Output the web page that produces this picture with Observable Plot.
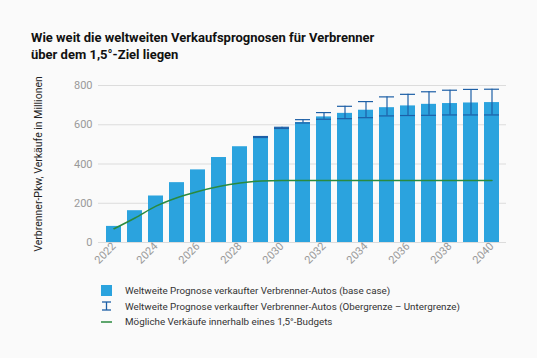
<!DOCTYPE html>
<html><head><meta charset="utf-8">
<script src="https://cdn.jsdelivr.net/npm/d3@7"></script>
<script src="https://cdn.jsdelivr.net/npm/@observablehq/plot@0.6"></script>
<style>
body{margin:0;background:#fafafa;font-family:Roboto, "Liberation Sans", sans-serif;}
#wrap{position:relative;width:537px;height:358px;overflow:hidden;background:#fafafa;}
#title{position:absolute;left:31px;top:29px;font-weight:bold;font-size:13px;line-height:17px;color:#111;}
#chart{position:absolute;left:0;top:70px;}
#legend{position:absolute;left:100px;top:283px;font-size:9.8px;color:#333;}
.row{display:flex;align-items:center;height:15.5px;}
.row svg{width:14px;height:14px;margin-right:11px;flex:none;}
</style></head>
<body>
<div id="wrap">
  <div id="title">Wie weit die weltweiten Verkaufsprognosen für Verbrenner<br>über dem 1,5°-Ziel liegen</div>
  <div id="chart"></div>
  <div id="legend"></div>
</div>
<script>
const years = [2022,2023,2024,2025,2026,2027,2028,2029,2030,2031,2032,2033,2034,2035,2036,2037,2038,2039,2040];
const baseCase = [82,162,237,305,370,433,488,537,583,611,640,658,674,687,696,704,708,711,713];
const upperBound = [null,null,null,null,null,null,null,540,587,626,662,694,718,742,755,768,776,780,781];
const lowerBound = [null,null,null,null,null,null,null,535,581,609,628,631,636,645,647,648,650,650,650];
const budget = [70,125,185,228,260,285,303,314,316,316,316,316,316,316,316,316,316,316,316];
const yTicks = [0,200,400,600,800];
const xTickYears = [2022,2024,2026,2028,2030,2032,2034,2036,2038,2040];
const legendLabels = [
  "Weltweite Prognose verkaufter Verbrenner-Autos (base case)",
  "Weltweite Prognose verkaufter Verbrenner-Autos (Obergrenze – Untergrenze)",
  "Mögliche Verkäufe innerhalb eines 1,5°-Budgets"
];
const yLabel = "Verbrenner-Pkw, Verkäufe in Millionen";

const barColor = "#2ba3de", errColor = "#1d5fa6", lineColor = "#2a8a3e";

const data = years.map((y,i)=>({year:String(y), base:baseCase[i], hi:upperBound[i], lo:lowerBound[i], budget:budget[i]}));
const errData = data.filter(d => d.hi != null);

const chart = Plot.plot({
  width: 537, height: 205,
  marginLeft: 98, marginRight: 31, marginTop: 15, marginBottom: 33,
  style: {background: "transparent", fontFamily: "Roboto, sans-serif", fontSize: "11px", color: "#999", overflow: "visible"},
  x: {type: "band", domain: years.map(String), paddingInner: 0.3, paddingOuter: 0.14},
  y: {domain: [0, 800]},
  marks: [
    Plot.gridY(yTicks, {stroke: "#dcdcdc", strokeOpacity: 1}),
    Plot.barY(data, {x: "year", y: "base", fill: barColor}),
    Plot.ruleX(errData, {x: "year", y1: "lo", y2: "hi", stroke: errColor, strokeWidth: 1.2}),
    Plot.tickY(errData, {x: "year", y: "hi", stroke: errColor, strokeWidth: 1.2}),
    Plot.tickY(errData, {x: "year", y: "lo", stroke: errColor, strokeWidth: 1.2}),
    Plot.line(data, {x: "year", y: "budget", stroke: lineColor, strokeWidth: 1.5, curve: "monotone-x"}),
    Plot.axisY({ticks: yTicks, tickSize: 0, tickPadding: 6, label: yLabel, labelAnchor: "center", labelOffset: 64, labelArrow: "none", fill: "#999"}),
    Plot.axisX({ticks: xTickYears.map(String), tickSize: 0, tickPadding: 2, tickRotate: -45, label: null, fill: "#999"})
  ]
});
document.getElementById("chart").appendChild(chart);
chart.querySelectorAll("g[aria-label='y-axis label']").forEach(e=>{
  e.setAttribute("fill","#222");
  e.setAttribute("font-size","10.5px");
});

const legend = document.getElementById("legend");
const icons = [
  `<svg viewBox="0 0 14 14"><rect x="1" y="1" width="11" height="11" fill="${barColor}"/></svg>`,
  `<svg viewBox="0 0 14 14"><line x1="2" x2="11" y1="3" y2="3" stroke="${errColor}" stroke-width="1.3"/><line x1="2" x2="11" y1="11" y2="11" stroke="${errColor}" stroke-width="1.3"/><line x1="6.5" x2="6.5" y1="3" y2="11" stroke="${errColor}" stroke-width="1.3"/></svg>`,
  `<svg viewBox="0 0 14 14"><line x1="1" x2="12" y1="7" y2="7" stroke="${lineColor}" stroke-width="1.5"/></svg>`
];
legendLabels.forEach((t,i)=>{
  const r = document.createElement("div"); r.className = "row";
  r.innerHTML = icons[i] + `<span>${t}</span>`;
  legend.appendChild(r);
});
</script>
</body></html>
